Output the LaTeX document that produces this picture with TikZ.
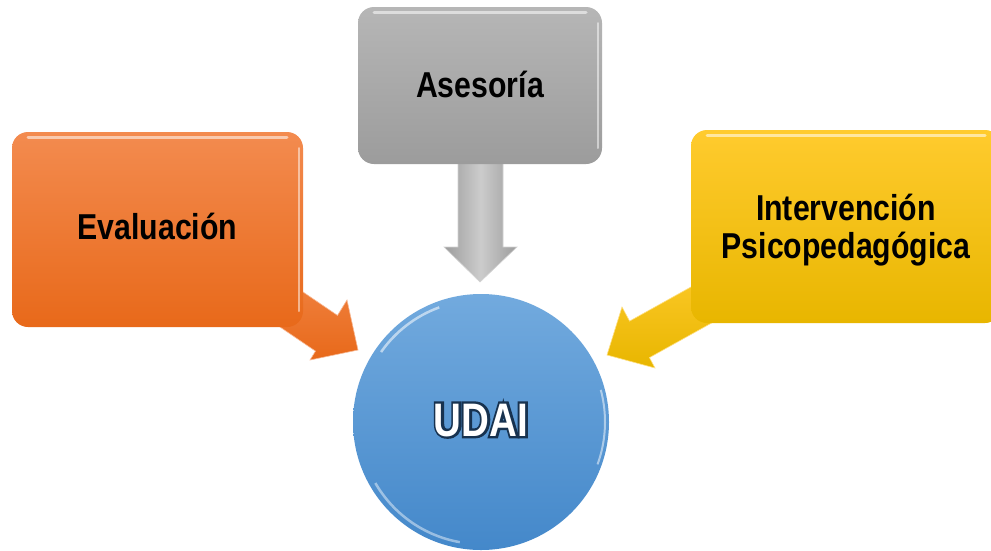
\documentclass[tikz,border=0pt]{standalone}
\usepackage{fontspec}
\newfontfamily\narrowfont{Liberation Sans}[FakeStretch=0.84]
\newfontfamily\narrowglow{Liberation Sans}[FakeStretch=0.82, FakeBold=10]
\usetikzlibrary{calc}
\definecolor{orangeT}{HTML}{F38B4F}
\definecolor{orangeB}{HTML}{E8691A}
\definecolor{grayT}{HTML}{B6B6B6}
\definecolor{grayB}{HTML}{9C9C9C}
\definecolor{yellowT}{HTML}{FFCB2E}
\definecolor{yellowB}{HTML}{E8B600}
\definecolor{blueT}{HTML}{72AADE}
\definecolor{blueB}{HTML}{4488CA}
\definecolor{navy}{HTML}{17324F}
\tikzset{
  boxlabel/.style={font=\narrowfont\bfseries\fontsize{36}{38}\selectfont, text=black, anchor=base, inner sep=0pt},
  gloss/.style={white, opacity=0.55, line width=3pt, line cap=round},
}
\begin{document}
\begin{tikzpicture}[x=1pt,y=-1pt]
\useasboundingbox (0,0) rectangle (991,550);
\clip (0,0) rectangle (991,550);
\fill[white] (0,0) rectangle (991,550);

% ---- arrows (behind boxes)
\shade[top color=orangeT!90!orangeB, bottom color=orangeB, draw=orangeT!60!white, line width=0.6pt]
  (250,256) -- (337.5,315.4) -- (347,300) -- (358,350) -- (310,360) -- (315.5,351.1) -- (230,293) -- cycle;
\shade[left color=grayB, right color=grayB, middle color=grayT!70!white, draw=grayT!60!white, line width=0.6pt]
  (458,150) -- (458,247) -- (444,247) -- (480,282) -- (517,247) -- (503,247) -- (503,150) -- cycle;
\shade[top color=yellowT, bottom color=yellowB, draw=yellowT!60!white, line width=0.6pt]
  (743.4,257.8) -- (629.6,321.1) -- (622,307) -- (607,355) -- (655,368) -- (649.4,357.6) -- (760.4,295.8) -- cycle;

% ---- boxes
\shade[top color=orangeT, bottom color=orangeB, rounded corners=16pt] (12,132) rectangle (303,327);
\draw[gloss] (28,137) -- (287,137);
\draw[white, opacity=0.5, line width=2pt, line cap=round] (299,148) -- (299,311);
\shade[top color=grayT, bottom color=grayB, rounded corners=16pt] (358,7) rectangle (602,164);
\draw[gloss] (374,12) -- (586,12);
\draw[white, opacity=0.5, line width=2pt, line cap=round] (598,23) -- (598,148);
\shade[top color=yellowT, bottom color=yellowB, rounded corners=16pt] (691,130) rectangle (1001,323);
\draw[gloss] (707,135) -- (985,135);

% ---- circle
\shade[top color=blueT, bottom color=blueB] (481,422) circle (128);
\draw[white, opacity=0.45, line width=2.5pt] (481,422) ++(150:122) arc[start angle=150, end angle=100, radius=122];
\draw[white, opacity=0.55, line width=2.5pt] (481,422) ++(215:122) arc[start angle=215, end angle=250, radius=122];
\draw[white, opacity=0.5, line width=2pt] (481,422) ++(20:124) arc[start angle=20, end angle=-15, radius=124];

% ---- labels
\node[boxlabel] (eval) at (157.5,239) {Evaluación};
\node[boxlabel] (ases) at (480,97) {Asesoría};
\node[boxlabel] (interv) at (846,220) {Intervención};
\node[boxlabel] (psico) at (846,258) {Psicopedagógica};
\node[font=\narrowglow\bfseries\fontsize{47}{50}\selectfont, text=navy, anchor=base, inner sep=0pt] (udaiglow) at (481,436) {UDAI};
\node[font=\narrowfont\bfseries\fontsize{47}{50}\selectfont, text=white, anchor=base, inner sep=0pt, xscale=0.976] (udai) at (481,436) {UDAI};
\end{tikzpicture}
\end{document}
